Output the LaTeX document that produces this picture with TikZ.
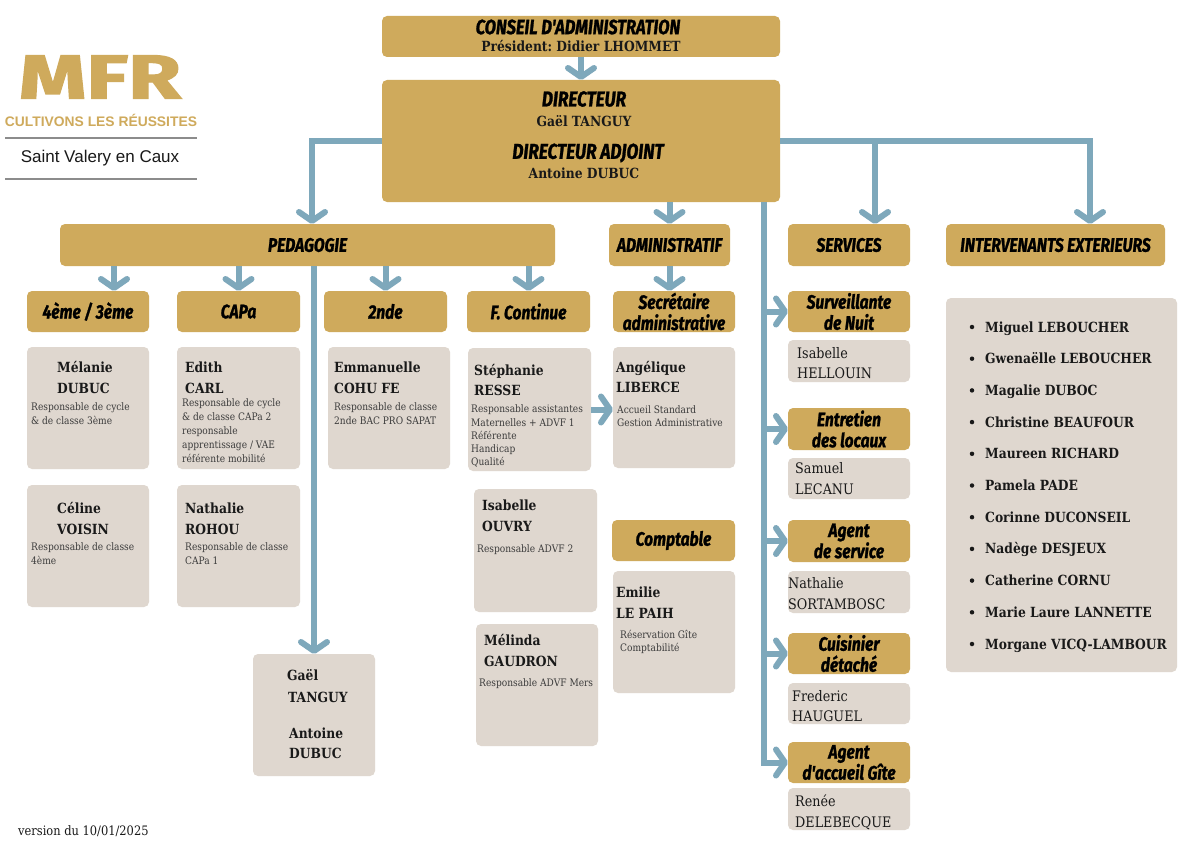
\documentclass[tikz,border=0pt]{standalone}
\usepackage{fontspec}
\setmainfont{DejaVu Serif}[FakeStretch=0.88]
\newfontfamily\hf{Fira Sans}[FakeStretch=0.8, FakeBold=1.2]
\newfontfamily\logofont{Fira Sans}[FakeBold=2]
\newfontfamily\lsans{Liberation Sans}
\usetikzlibrary{arrows.meta}
\definecolor{gold}{RGB}{207,170,92}
\definecolor{grayb}{RGB}{223,215,207}
\definecolor{conn}{RGB}{126,168,187}
\definecolor{ink}{RGB}{25,25,25}
\definecolor{rulec}{RGB}{140,140,140}
\frenchspacing
\tikzset{
  boxbase/.style={rounded corners=5pt, inner sep=0pt, outer sep=0pt},
  goldbox/.style={boxbase, fill=gold, font=\hf\bfseries\itshape\fontsize{19.5}{21}\selectfont, text=black, align=center},
  graybox/.style={boxbase, fill=grayb},
  conline/.style={draw=conn, line width=6pt},
  arr/.style={conline, -{Straight Barb[length=9pt,width=26pt,round]}},
  nmtext/.style={font=\bfseries\fontsize{14}{16}\selectfont, text=ink, inner sep=0pt, text height=10pt, text depth=0pt, anchor=west},
  svtext/.style={font=\fontsize{14.5}{16}\selectfont, text=ink, inner sep=0pt, text height=10.5pt, text depth=0pt, anchor=west},
  dstext/.style={font=\fontsize{10.3}{12}\selectfont, text=ink!85, inner sep=0pt, text height=7.5pt, text depth=0pt, anchor=west},
  hdtext/.style={font=\hf\bfseries\itshape\fontsize{21.5}{24}\selectfont, text=black, inner sep=0pt},
  ctext/.style={font=\bfseries\fontsize{14}{16}\selectfont, text=ink, inner sep=0pt},
  bul/.style={circle, fill=ink, inner sep=0pt, minimum size=4.5pt},
  rulel/.style={draw=rulec, line width=1.5pt},
}
% box: style, x1, y1, x2, y2, name, text
\newcommand\bx[7]{\node[#1, minimum width={(#4-#2)*1pt}, minimum height={(#5-#3)*1pt}] (#6) at ({(#2+#4)/2},{(#3+#5)/2}) {#7};}
% text: name, style, x, y, text
\newcommand\tx[5]{\node[#2] (#1) at (#3,#4) {#5};}
\begin{document}
\begin{tikzpicture}[x=1pt,y=-1pt]
\useasboundingbox (0,0) rectangle (1200,848);
\fill[white] (0,0) rectangle (1200,848);

% ---------- logo ----------
\node[inner sep=0pt, text=gold] (mfr) at (100,77) {\resizebox{162pt}{43pt}{\logofont\bfseries MFR}};
\node[inner sep=0pt, text=gold] (cult) at (101,120) {\resizebox{192pt}{!}{\lsans\bfseries CULTIVONS LES RÉUSSITES}};
\draw[rulel] (5,138) -- (197,138);
\node[inner sep=0pt, text=ink, font=\lsans\fontsize{17}{19}\selectfont] (svc) at (100,158) {Saint Valery en Caux};
\draw[rulel] (5,179) -- (197,179);
\node[inner sep=0pt, anchor=west, text=ink, font=\fontsize{13}{15}\selectfont] (ver) at (18,831) {version du 10/01/2025};

% ---------- gold boxes ----------
\bx{goldbox}{382}{16}{780}{57}{conseil}{}
\bx{goldbox}{382}{80}{780}{202}{dir}{}
\bx{goldbox}{60}{224}{555}{266}{ped}{PEDAGOGIE}
\bx{goldbox}{609}{224}{730}{266}{adm}{ADMINISTRATIF}
\bx{goldbox}{788}{224}{910}{266}{serv}{SERVICES}
\bx{goldbox}{946}{224}{1165}{266}{inter}{INTERVENANTS EXTERIEURS}
\bx{goldbox}{27}{291}{149}{332}{q43}{4ème / 3ème}
\bx{goldbox}{177}{291}{300}{332}{capa}{CAPa}
\bx{goldbox}{324}{291}{447}{332}{sec2}{2nde}
\bx{goldbox}{467}{291}{590}{332}{fc}{F. Continue}
\bx{goldbox}{613}{291}{735}{332}{secr}{Secrétaire\\administrative}
\bx{goldbox}{612}{520}{735}{561}{compt}{Comptable}
\bx{goldbox}{788}{291}{910}{332}{surv}{Surveillante\\de Nuit}
\bx{goldbox}{788}{408}{910}{450}{entr}{Entretien\\des locaux}
\bx{goldbox}{788}{520}{910}{562}{agserv}{Agent\\de service}
\bx{goldbox}{788}{633}{910}{674}{cuis}{Cuisinier\\détaché}
\bx{goldbox}{788}{742}{910}{783}{accueil}{Agent\\d'accueil Gîte}

\tx{tconseil}{hdtext,font=\hf\bfseries\itshape\fontsize{20.6}{24}\selectfont}{578}{27}{CONSEIL D'ADMINISTRATION}
\tx{tpres}{ctext}{581}{46}{Président: Didier LHOMMET}
\tx{tdir}{hdtext}{584}{99}{DIRECTEUR}
\tx{tdirn}{ctext}{584}{121}{Gaël TANGUY}
\tx{tadj}{hdtext}{588}{153}{DIRECTEUR ADJOINT}
\tx{tadjn}{ctext}{584}{173}{Antoine DUBUC}

% ---------- gray boxes ----------
\bx{graybox}{27}{347}{149}{469}{melanie}{}
\bx{graybox}{177}{347}{300}{469}{edith}{}
\bx{graybox}{328}{347}{450}{469}{emma}{}
\bx{graybox}{468}{348}{591}{471}{steph}{}
\bx{graybox}{613}{347}{735}{468}{angel}{}
\bx{graybox}{27}{485}{149}{607}{celine}{}
\bx{graybox}{177}{485}{300}{607}{nathr}{}
\bx{graybox}{253}{654}{375}{776}{gael}{}
\bx{graybox}{474}{489}{597}{612}{isao}{}
\bx{graybox}{476}{624}{598}{746}{melinda}{}
\bx{graybox}{613}{571}{735}{693}{emilie}{}
\bx{graybox}{788}{340}{910}{382}{isah}{}
\bx{graybox}{788}{458}{910}{499}{samuel}{}
\bx{graybox}{788}{571}{910}{613}{naths}{}
\bx{graybox}{788}{683}{910}{724}{fred}{}
\bx{graybox}{788}{788}{910}{830}{renee}{}
\bx{graybox}{946}{298}{1177}{672}{interl}{}

% texts in gray boxes
\tx{m1}{nmtext}{57}{367}{Mélanie}
\tx{m2}{nmtext}{57}{388}{DUBUC}
\tx{m3}{dstext}{31}{407}{Responsable de cycle}
\tx{m4}{dstext}{31}{421}{\& de classe 3ème}

\tx{e1}{nmtext}{185}{367}{Edith}
\tx{e2}{nmtext}{185}{388}{CARL}
\tx{e3}{dstext}{182}{403}{Responsable de cycle}
\tx{e4}{dstext}{182}{417}{\& de classe CAPa 2}
\tx{e5}{dstext}{182}{431}{responsable}
\tx{e6}{dstext}{182}{445}{apprentissage / VAE}
\tx{e7}{dstext}{182}{459}{référente mobilité}

\tx{em1}{nmtext}{334}{367}{Emmanuelle}
\tx{em2}{nmtext}{334}{388}{COHU FE}
\tx{em3}{dstext}{334}{407}{Responsable de classe}
\tx{em4}{dstext}{334}{421}{2nde BAC PRO SAPAT}

\tx{s1}{nmtext}{474}{370}{Stéphanie}
\tx{s2}{nmtext}{474}{390}{RESSE}
\tx{s3}{dstext}{471}{409}{Responsable assistantes}
\tx{s4}{dstext}{471}{423}{Maternelles + ADVF 1}
\tx{s5}{dstext}{471}{436}{Référente}
\tx{s6}{dstext}{471}{449}{Handicap}
\tx{s7}{dstext}{471}{462}{Qualité}

\tx{a1}{nmtext}{616}{367}{Angélique}
\tx{a2}{nmtext}{616}{387}{LIBERCE}
\tx{a3}{dstext}{617}{410}{Accueil Standard}
\tx{a4}{dstext}{617}{423}{Gestion Administrative}

\tx{c1}{nmtext}{57}{508}{Céline}
\tx{c2}{nmtext}{57}{529}{VOISIN}
\tx{c3}{dstext}{31}{547}{Responsable de classe}
\tx{c4}{dstext}{31}{561}{4ème}

\tx{n1}{nmtext}{185}{508}{Nathalie}
\tx{n2}{nmtext}{185}{529}{ROHOU}
\tx{n3}{dstext}{185}{547}{Responsable de classe}
\tx{n4}{dstext}{185}{561}{CAPa 1}

\tx{g1}{nmtext}{287}{675}{Gaël}
\tx{g2}{nmtext}{288}{697}{TANGUY}
\tx{g3}{nmtext}{289}{733}{Antoine}
\tx{g4}{nmtext}{289}{753}{DUBUC}

\tx{i1}{nmtext}{482}{505}{Isabelle}
\tx{i2}{nmtext}{482}{526}{OUVRY}
\tx{i3}{dstext}{477}{549}{Responsable ADVF 2}

\tx{ml1}{nmtext}{484}{640}{Mélinda}
\tx{ml2}{nmtext}{484}{661}{GAUDRON}
\tx{ml3}{dstext}{479}{683}{Responsable ADVF Mers}

\tx{em5}{nmtext}{616}{592}{Emilie}
\tx{em6}{nmtext}{616}{613}{LE PAIH}
\tx{em7}{dstext}{620}{635}{Réservation Gîte}
\tx{em8}{dstext}{620}{648}{Comptabilité}

\tx{h1}{svtext}{797}{353}{Isabelle}
\tx{h2}{svtext}{797}{373}{HELLOUIN}
\tx{l1}{svtext}{795}{468}{Samuel}
\tx{l2}{svtext}{795}{489}{LECANU}
\tx{o1}{svtext}{788}{583}{Nathalie}
\tx{o2}{svtext}{788}{604}{SORTAMBOSC}
\tx{f1}{svtext}{792}{696}{Frederic}
\tx{f2}{svtext}{792}{716}{HAUGUEL}
\tx{r1}{svtext}{795}{801}{Renée}
\tx{r2}{svtext}{795}{822}{DELEBECQUE}

% intervenants list
\foreach \nm [count=\k from 0] in {Miguel LEBOUCHER, Gwenaëlle LEBOUCHER, Magalie DUBOC, Christine BEAUFOUR, Maureen RICHARD, Pamela PADE, Corinne DUCONSEIL, Nadège DESJEUX, Catherine CORNU, Marie Laure LANNETTE, Morgane VICQ-LAMBOUR}{
  \node[bul] (b\k) at (972,{327+31.7*\k}) {};
  \node[nmtext] (iv\k) at (985,{327+31.7*\k}) {\nm};
}

% ---------- connectors ----------
\coordinate (pedtop) at (312,224);
\coordinate (servtop) at (875,224);
\coordinate (intertop) at (1090,224);
\coordinate (vline) at (764,202);
\coordinate (q43top) at (114,291);

\draw[arr] (conseil.south) -- (dir.north);
\draw[arr] (dir.west) -| (pedtop);
\draw[arr] (dir.east) -| (intertop);
\draw[arr] (dir.east -| servtop) -- (servtop);
\draw[arr] (dir.south -| adm.north) -- (adm.north);

\draw[arr] (ped.south -| q43top) -- (q43top);
\draw[arr] (ped.south -| capa.north) -- (capa.north);
\draw[arr] (ped.south -| sec2.north) -- (sec2.north);
\draw[arr] (ped.south -| fc.north) -- (fc.north);
\draw[arr] (ped.south -| gael.north) -- (gael.north);

\draw[arr] (adm.south) -- (adm.south |- secr.north);
\draw[arr] (steph.east) -- (steph.east -| angel.west);

\draw[arr] (vline) |- (accueil.west);
\draw[arr] (surv.west -| vline) -- (surv.west);
\draw[arr] (entr.west -| vline) -- (entr.west);
\draw[arr] (agserv.west -| vline) -- (agserv.west);
\draw[arr] (cuis.west -| vline) -- (cuis.west);
\end{tikzpicture}
\end{document}
